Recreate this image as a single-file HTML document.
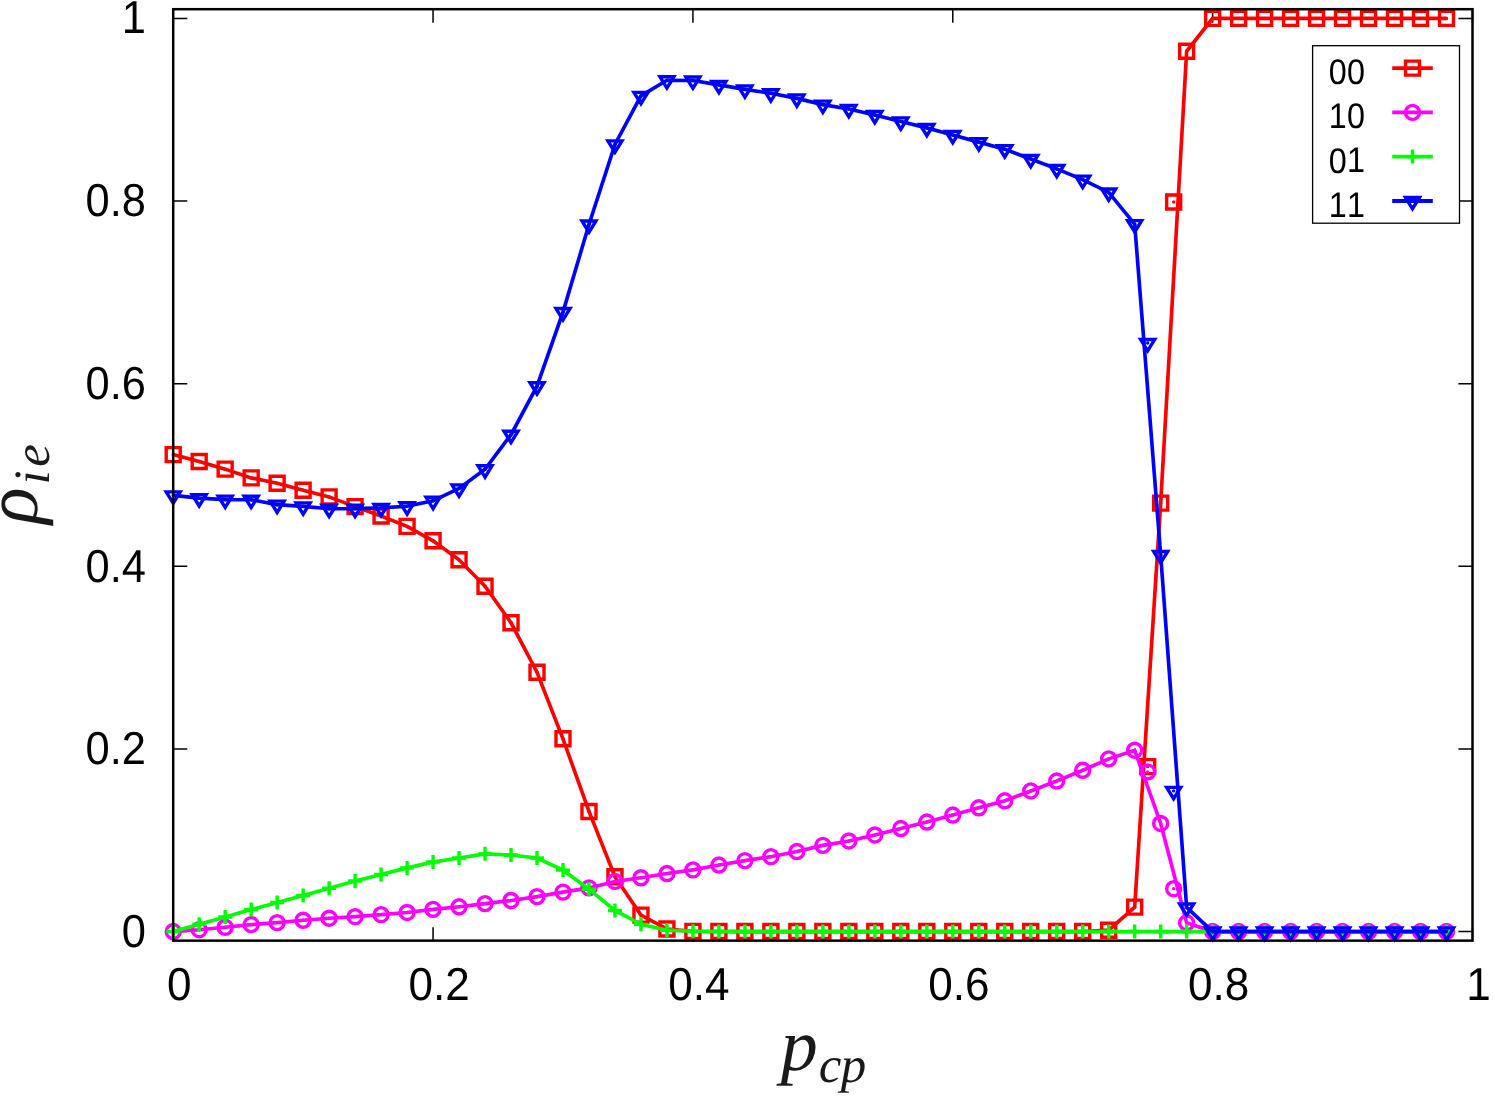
<!DOCTYPE html>
<html><head><meta charset="utf-8"><title>plot</title>
<style>
html,body{margin:0;padding:0;background:#fff;}
body{width:1495px;height:1096px;overflow:hidden;}
svg{display:block;will-change:transform;}
text{font-family:"Liberation Sans",sans-serif;fill:#000;text-rendering:geometricPrecision;}
</style></head><body>
<svg width="1495" height="1096" viewBox="0 0 1495 1096">
<rect width="1495" height="1096" fill="#fff"/>
<path d="M173.2 931.55h14.1M1472.5 931.55h-14.1M173.2 748.92h14.1M1472.5 748.92h-14.1M173.2 566.29h14.1M1472.5 566.29h-14.1M173.2 383.66h14.1M1472.5 383.66h-14.1M173.2 201.03h14.1M1472.5 201.03h-14.1M173.2 18.4h14.1M1472.5 18.4h-14.1M173.2 940.65v-13.5M173.2 9.2v13.5M433.06 940.65v-13.5M433.06 9.2v13.5M692.92 940.65v-13.5M692.92 9.2v13.5M952.78 940.65v-13.5M952.78 9.2v13.5M1212.64 940.65v-13.5M1212.64 9.2v13.5M1472.5 940.65v-13.5M1472.5 9.2v13.5" stroke="#000" stroke-width="1.5" fill="none"/>
<rect x="1312.6" y="45.7" width="146.9000000000001" height="177.5" fill="#fff" stroke="#000" stroke-width="1.3"/>
<polyline points="173.2,454.61 199.19,461.55 225.17,469.13 251.16,477.9 277.14,483.28 303.13,490.22 329.12,496.89 355.1,506.66 381.09,515.98 407.07,526.39 433.06,540.81 459.05,559.81 485.03,586.29 511.02,622.81 537,672.22 562.99,738.78 588.98,811.47 614.96,876.76 640.95,915.11 666.93,928.99 692.92,931.37 718.91,931.55 744.89,931.55 770.88,931.55 796.86,931.55 822.85,931.55 848.84,931.55 874.82,931.55 900.81,931.55 926.79,931.55 952.78,931.55 978.77,931.55 1004.75,931.55 1030.74,931.55 1056.72,931.55 1082.71,931.55 1108.7,930.18 1134.68,907.17 1160.67,503.1 1186.65,51.27 1212.64,18.4 1238.63,18.4 1264.61,18.4 1290.6,18.4 1316.58,18.4 1342.57,18.4 1368.56,18.4 1394.54,18.4 1420.53,18.4 1446.51,18.4" fill="none" stroke="#ff0000" stroke-width="3.65" stroke-linejoin="miter" stroke-miterlimit="10" stroke-linecap="butt"/>
<path d="M1392.2 68.1H1432.8" stroke="#ff0000" stroke-width="3.8" fill="none"/>
<path d="M166.2 447.61h14v14h-14zM192.19 454.55h14v14h-14zM218.17 462.13h14v14h-14zM244.16 470.9h14v14h-14zM270.14 476.28h14v14h-14zM296.13 483.22h14v14h-14zM322.12 489.89h14v14h-14zM348.1 499.66h14v14h-14zM374.09 508.98h14v14h-14zM400.07 519.39h14v14h-14zM426.06 533.81h14v14h-14zM452.05 552.81h14v14h-14zM478.03 579.29h14v14h-14zM504.02 615.81h14v14h-14zM530 665.22h14v14h-14zM555.99 731.78h14v14h-14zM581.98 804.47h14v14h-14zM607.96 869.76h14v14h-14zM633.95 908.11h14v14h-14zM659.93 921.99h14v14h-14zM685.92 924.37h14v14h-14zM711.91 924.55h14v14h-14zM737.89 924.55h14v14h-14zM763.88 924.55h14v14h-14zM789.86 924.55h14v14h-14zM815.85 924.55h14v14h-14zM841.84 924.55h14v14h-14zM867.82 924.55h14v14h-14zM893.81 924.55h14v14h-14zM919.79 924.55h14v14h-14zM945.78 924.55h14v14h-14zM971.77 924.55h14v14h-14zM997.75 924.55h14v14h-14zM1023.74 924.55h14v14h-14zM1049.72 924.55h14v14h-14zM1075.71 924.55h14v14h-14zM1101.7 923.18h14v14h-14zM1127.68 900.17h14v14h-14zM1140.67 759.64h14v14h-14zM1153.67 496.1h14v14h-14zM1166.66 194.94h14v14h-14zM1179.65 44.27h14v14h-14zM1205.64 11.4h14v14h-14zM1231.63 11.4h14v14h-14zM1257.61 11.4h14v14h-14zM1283.6 11.4h14v14h-14zM1309.58 11.4h14v14h-14zM1335.57 11.4h14v14h-14zM1361.56 11.4h14v14h-14zM1387.54 11.4h14v14h-14zM1413.53 11.4h14v14h-14zM1439.51 11.4h14v14h-14zM1405.5 61.1h14v14h-14z" fill="none" stroke="#ff0000" stroke-width="3.4" stroke-linejoin="miter" stroke-miterlimit="10"/><path d="M173.2 454.61h0.01M199.19 461.55h0.01M225.17 469.13h0.01M251.16 477.9h0.01M277.14 483.28h0.01M303.13 490.22h0.01M329.12 496.89h0.01M355.1 506.66h0.01M381.09 515.98h0.01M407.07 526.39h0.01M433.06 540.81h0.01M459.05 559.81h0.01M485.03 586.29h0.01M511.02 622.81h0.01M537 672.22h0.01M562.99 738.78h0.01M588.98 811.47h0.01M614.96 876.76h0.01M640.95 915.11h0.01M666.93 928.99h0.01M692.92 931.37h0.01M718.91 931.55h0.01M744.89 931.55h0.01M770.88 931.55h0.01M796.86 931.55h0.01M822.85 931.55h0.01M848.84 931.55h0.01M874.82 931.55h0.01M900.81 931.55h0.01M926.79 931.55h0.01M952.78 931.55h0.01M978.77 931.55h0.01M1004.75 931.55h0.01M1030.74 931.55h0.01M1056.72 931.55h0.01M1082.71 931.55h0.01M1108.7 930.18h0.01M1134.68 907.17h0.01M1147.67 766.64h0.01M1160.67 503.1h0.01M1173.66 201.94h0.01M1186.65 51.27h0.01M1212.64 18.4h0.01M1238.63 18.4h0.01M1264.61 18.4h0.01M1290.6 18.4h0.01M1316.58 18.4h0.01M1342.57 18.4h0.01M1368.56 18.4h0.01M1394.54 18.4h0.01M1420.53 18.4h0.01M1446.51 18.4h0.01M1412.5 68.1h0.01" fill="none" stroke="#ff0000" stroke-width="3.4" stroke-linecap="round"/>
<polyline points="173.2,931.55 199.19,929.72 225.17,927.26 251.16,924.61 277.14,922.6 303.13,920.23 329.12,918.22 355.1,916.67 381.09,914.66 407.07,912.47 433.06,909.36 459.05,906.8 485.03,903.61 511.02,900.5 537,896.58 562.99,892.1 588.98,887.9 614.96,881.42 640.95,877.77 666.93,873.56 692.92,869.91 718.91,865.07 744.89,860.6 770.88,856.67 796.86,851.56 822.85,845.35 848.84,840.97 874.82,834.94 900.81,828.55 926.79,822.06 952.78,815.03 978.77,807.82 1004.75,800.79 1030.74,790.92 1056.72,781.06 1082.71,770.29 1108.7,758.87 1134.68,750.2 1160.67,823.43 1186.65,922.78 1212.64,931.55 1238.63,931.55 1264.61,931.55 1290.6,931.55 1316.58,931.55 1342.57,931.55 1368.56,931.55 1394.54,931.55 1420.53,931.55 1446.51,931.55" fill="none" stroke="#ff00ff" stroke-width="3.65" stroke-linejoin="miter" stroke-miterlimit="10" stroke-linecap="butt"/>
<path d="M1392.2 112.4H1432.8" stroke="#ff00ff" stroke-width="3.8" fill="none"/>
<path d="M166.2 931.55a7 7 0 1 0 14 0a7 7 0 1 0 -14 0zM192.19 929.72a7 7 0 1 0 14 0a7 7 0 1 0 -14 0zM218.17 927.26a7 7 0 1 0 14 0a7 7 0 1 0 -14 0zM244.16 924.61a7 7 0 1 0 14 0a7 7 0 1 0 -14 0zM270.14 922.6a7 7 0 1 0 14 0a7 7 0 1 0 -14 0zM296.13 920.23a7 7 0 1 0 14 0a7 7 0 1 0 -14 0zM322.12 918.22a7 7 0 1 0 14 0a7 7 0 1 0 -14 0zM348.1 916.67a7 7 0 1 0 14 0a7 7 0 1 0 -14 0zM374.09 914.66a7 7 0 1 0 14 0a7 7 0 1 0 -14 0zM400.07 912.47a7 7 0 1 0 14 0a7 7 0 1 0 -14 0zM426.06 909.36a7 7 0 1 0 14 0a7 7 0 1 0 -14 0zM452.05 906.8a7 7 0 1 0 14 0a7 7 0 1 0 -14 0zM478.03 903.61a7 7 0 1 0 14 0a7 7 0 1 0 -14 0zM504.02 900.5a7 7 0 1 0 14 0a7 7 0 1 0 -14 0zM530 896.58a7 7 0 1 0 14 0a7 7 0 1 0 -14 0zM555.99 892.1a7 7 0 1 0 14 0a7 7 0 1 0 -14 0zM581.98 887.9a7 7 0 1 0 14 0a7 7 0 1 0 -14 0zM607.96 881.42a7 7 0 1 0 14 0a7 7 0 1 0 -14 0zM633.95 877.77a7 7 0 1 0 14 0a7 7 0 1 0 -14 0zM659.93 873.56a7 7 0 1 0 14 0a7 7 0 1 0 -14 0zM685.92 869.91a7 7 0 1 0 14 0a7 7 0 1 0 -14 0zM711.91 865.07a7 7 0 1 0 14 0a7 7 0 1 0 -14 0zM737.89 860.6a7 7 0 1 0 14 0a7 7 0 1 0 -14 0zM763.88 856.67a7 7 0 1 0 14 0a7 7 0 1 0 -14 0zM789.86 851.56a7 7 0 1 0 14 0a7 7 0 1 0 -14 0zM815.85 845.35a7 7 0 1 0 14 0a7 7 0 1 0 -14 0zM841.84 840.97a7 7 0 1 0 14 0a7 7 0 1 0 -14 0zM867.82 834.94a7 7 0 1 0 14 0a7 7 0 1 0 -14 0zM893.81 828.55a7 7 0 1 0 14 0a7 7 0 1 0 -14 0zM919.79 822.06a7 7 0 1 0 14 0a7 7 0 1 0 -14 0zM945.78 815.03a7 7 0 1 0 14 0a7 7 0 1 0 -14 0zM971.77 807.82a7 7 0 1 0 14 0a7 7 0 1 0 -14 0zM997.75 800.79a7 7 0 1 0 14 0a7 7 0 1 0 -14 0zM1023.74 790.92a7 7 0 1 0 14 0a7 7 0 1 0 -14 0zM1049.72 781.06a7 7 0 1 0 14 0a7 7 0 1 0 -14 0zM1075.71 770.29a7 7 0 1 0 14 0a7 7 0 1 0 -14 0zM1101.7 758.87a7 7 0 1 0 14 0a7 7 0 1 0 -14 0zM1127.68 750.2a7 7 0 1 0 14 0a7 7 0 1 0 -14 0zM1140.67 771.84a7 7 0 1 0 14 0a7 7 0 1 0 -14 0zM1153.67 823.43a7 7 0 1 0 14 0a7 7 0 1 0 -14 0zM1166.66 888.63a7 7 0 1 0 14 0a7 7 0 1 0 -14 0zM1179.65 922.78a7 7 0 1 0 14 0a7 7 0 1 0 -14 0zM1205.64 931.55a7 7 0 1 0 14 0a7 7 0 1 0 -14 0zM1231.63 931.55a7 7 0 1 0 14 0a7 7 0 1 0 -14 0zM1257.61 931.55a7 7 0 1 0 14 0a7 7 0 1 0 -14 0zM1283.6 931.55a7 7 0 1 0 14 0a7 7 0 1 0 -14 0zM1309.58 931.55a7 7 0 1 0 14 0a7 7 0 1 0 -14 0zM1335.57 931.55a7 7 0 1 0 14 0a7 7 0 1 0 -14 0zM1361.56 931.55a7 7 0 1 0 14 0a7 7 0 1 0 -14 0zM1387.54 931.55a7 7 0 1 0 14 0a7 7 0 1 0 -14 0zM1413.53 931.55a7 7 0 1 0 14 0a7 7 0 1 0 -14 0zM1439.51 931.55a7 7 0 1 0 14 0a7 7 0 1 0 -14 0zM1405.5 112.4a7 7 0 1 0 14 0a7 7 0 1 0 -14 0z" fill="none" stroke="#ff00ff" stroke-width="3.4" stroke-linejoin="miter" stroke-miterlimit="10"/><path d="M173.2 931.55h0.01M199.19 929.72h0.01M225.17 927.26h0.01M251.16 924.61h0.01M277.14 922.6h0.01M303.13 920.23h0.01M329.12 918.22h0.01M355.1 916.67h0.01M381.09 914.66h0.01M407.07 912.47h0.01M433.06 909.36h0.01M459.05 906.8h0.01M485.03 903.61h0.01M511.02 900.5h0.01M537 896.58h0.01M562.99 892.1h0.01M588.98 887.9h0.01M614.96 881.42h0.01M640.95 877.77h0.01M666.93 873.56h0.01M692.92 869.91h0.01M718.91 865.07h0.01M744.89 860.6h0.01M770.88 856.67h0.01M796.86 851.56h0.01M822.85 845.35h0.01M848.84 840.97h0.01M874.82 834.94h0.01M900.81 828.55h0.01M926.79 822.06h0.01M952.78 815.03h0.01M978.77 807.82h0.01M1004.75 800.79h0.01M1030.74 790.92h0.01M1056.72 781.06h0.01M1082.71 770.29h0.01M1108.7 758.87h0.01M1134.68 750.2h0.01M1147.67 771.84h0.01M1160.67 823.43h0.01M1173.66 888.63h0.01M1186.65 922.78h0.01M1212.64 931.55h0.01M1238.63 931.55h0.01M1264.61 931.55h0.01M1290.6 931.55h0.01M1316.58 931.55h0.01M1342.57 931.55h0.01M1368.56 931.55h0.01M1394.54 931.55h0.01M1420.53 931.55h0.01M1446.51 931.55h0.01M1412.5 112.4h0.01" fill="none" stroke="#ff00ff" stroke-width="3.4" stroke-linecap="round"/>
<polyline points="173.2,931.55 199.19,924.24 225.17,917.03 251.16,909.54 277.14,902.51 303.13,895.57 329.12,888.18 355.1,881.05 381.09,874.48 407.07,867.9 433.06,862.06 459.05,858.04 485.03,853.84 511.02,855.03 537,858.04 562.99,870.1 588.98,889.18 614.96,910.46 640.95,924.34 666.93,930.27 692.92,931.28 718.91,931.55 744.89,931.55 770.88,931.55 796.86,931.55 822.85,931.55 848.84,931.55 874.82,931.55 900.81,931.55 926.79,931.55 952.78,931.55 978.77,931.55 1004.75,931.55 1030.74,931.55 1056.72,931.55 1082.71,931.55 1108.7,931.55 1134.68,931.55 1160.67,931.55 1186.65,931.55 1212.64,931.55 1238.63,931.55 1264.61,931.55 1290.6,931.55 1316.58,931.55 1342.57,931.55 1368.56,931.55 1394.54,931.55 1420.53,931.55 1446.51,931.55" fill="none" stroke="#00ff00" stroke-width="3.65" stroke-linejoin="miter" stroke-miterlimit="10" stroke-linecap="butt"/>
<path d="M1392.2 156.6H1432.8" stroke="#00ff00" stroke-width="3.8" fill="none"/>
<path d="M166.2 931.55h14M173.2 924.55v14M192.19 924.24h14M199.19 917.24v14M218.17 917.03h14M225.17 910.03v14M244.16 909.54h14M251.16 902.54v14M270.14 902.51h14M277.14 895.51v14M296.13 895.57h14M303.13 888.57v14M322.12 888.18h14M329.12 881.18v14M348.1 881.05h14M355.1 874.05v14M374.09 874.48h14M381.09 867.48v14M400.07 867.9h14M407.07 860.9v14M426.06 862.06h14M433.06 855.06v14M452.05 858.04h14M459.05 851.04v14M478.03 853.84h14M485.03 846.84v14M504.02 855.03h14M511.02 848.03v14M530 858.04h14M537 851.04v14M555.99 870.1h14M562.99 863.1v14M581.98 889.18h14M588.98 882.18v14M607.96 910.46h14M614.96 903.46v14M633.95 924.34h14M640.95 917.34v14M659.93 930.27h14M666.93 923.27v14M685.92 931.28h14M692.92 924.28v14M711.91 931.55h14M718.91 924.55v14M737.89 931.55h14M744.89 924.55v14M763.88 931.55h14M770.88 924.55v14M789.86 931.55h14M796.86 924.55v14M815.85 931.55h14M822.85 924.55v14M841.84 931.55h14M848.84 924.55v14M867.82 931.55h14M874.82 924.55v14M893.81 931.55h14M900.81 924.55v14M919.79 931.55h14M926.79 924.55v14M945.78 931.55h14M952.78 924.55v14M971.77 931.55h14M978.77 924.55v14M997.75 931.55h14M1004.75 924.55v14M1023.74 931.55h14M1030.74 924.55v14M1049.72 931.55h14M1056.72 924.55v14M1075.71 931.55h14M1082.71 924.55v14M1101.7 931.55h14M1108.7 924.55v14M1127.68 931.55h14M1134.68 924.55v14M1153.67 931.55h14M1160.67 924.55v14M1179.65 931.55h14M1186.65 924.55v14M1205.64 931.55h14M1212.64 924.55v14M1231.63 931.55h14M1238.63 924.55v14M1257.61 931.55h14M1264.61 924.55v14M1283.6 931.55h14M1290.6 924.55v14M1309.58 931.55h14M1316.58 924.55v14M1335.57 931.55h14M1342.57 924.55v14M1361.56 931.55h14M1368.56 924.55v14M1387.54 931.55h14M1394.54 924.55v14M1413.53 931.55h14M1420.53 924.55v14M1439.51 931.55h14M1446.51 924.55v14M1405.5 156.6h14M1412.5 149.6v14" fill="none" stroke="#00ff00" stroke-width="3.4" stroke-linejoin="miter" stroke-miterlimit="10"/>
<polyline points="173.2,495.34 199.19,498.17 225.17,499.63 251.16,499.72 277.14,504.65 303.13,506.39 329.12,508.76 355.1,508.67 381.09,507.94 407.07,506.3 433.06,500.82 459.05,488.4 485.03,469.31 511.02,434.71 537,386.22 562.99,312.07 588.98,224.5 614.96,144.41 640.95,95.84 666.93,80.22 692.92,80.49 718.91,84.88 744.89,89.35 770.88,93.28 796.86,98.39 822.85,104.6 848.84,108.98 874.82,115.01 900.81,121.4 926.79,127.89 952.78,134.92 978.77,142.13 1004.75,149.16 1030.74,159.03 1056.72,168.89 1082.71,179.66 1108.7,192.45 1134.68,224.13 1160.67,554.97 1186.65,907.44 1212.64,931.55 1238.63,931.55 1264.61,931.55 1290.6,931.55 1316.58,931.55 1342.57,931.55 1368.56,931.55 1394.54,931.55 1420.53,931.55 1446.51,931.55" fill="none" stroke="#0000ff" stroke-width="3.65" stroke-linejoin="miter" stroke-miterlimit="10" stroke-linecap="butt"/>
<path d="M1392.2 201.0H1432.8" stroke="#0000ff" stroke-width="3.8" fill="none"/>
<path d="M173.2 503.18L166.2 491.84L180.2 491.84zM199.19 506.01L192.19 494.67L206.19 494.67zM225.17 507.47L218.17 496.13L232.17 496.13zM251.16 507.56L244.16 496.22L258.16 496.22zM277.14 512.49L270.14 501.15L284.14 501.15zM303.13 514.23L296.13 502.89L310.13 502.89zM329.12 516.6L322.12 505.26L336.12 505.26zM355.1 516.51L348.1 505.17L362.1 505.17zM381.09 515.78L374.09 504.44L388.09 504.44zM407.07 514.14L400.07 502.8L414.07 502.8zM433.06 508.66L426.06 497.32L440.06 497.32zM459.05 496.24L452.05 484.9L466.05 484.9zM485.03 477.15L478.03 465.81L492.03 465.81zM511.02 442.55L504.02 431.21L518.02 431.21zM537 394.06L530 382.72L544 382.72zM562.99 319.91L555.99 308.57L569.99 308.57zM588.98 232.34L581.98 221L595.98 221zM614.96 152.25L607.96 140.91L621.96 140.91zM640.95 103.68L633.95 92.34L647.95 92.34zM666.93 88.06L659.93 76.72L673.93 76.72zM692.92 88.33L685.92 76.99L699.92 76.99zM718.91 92.72L711.91 81.38L725.91 81.38zM744.89 97.19L737.89 85.85L751.89 85.85zM770.88 101.12L763.88 89.78L777.88 89.78zM796.86 106.23L789.86 94.89L803.86 94.89zM822.85 112.44L815.85 101.1L829.85 101.1zM848.84 116.82L841.84 105.48L855.84 105.48zM874.82 122.85L867.82 111.51L881.82 111.51zM900.81 129.24L893.81 117.9L907.81 117.9zM926.79 135.73L919.79 124.39L933.79 124.39zM952.78 142.76L945.78 131.42L959.78 131.42zM978.77 149.97L971.77 138.63L985.77 138.63zM1004.75 157L997.75 145.66L1011.75 145.66zM1030.74 166.87L1023.74 155.53L1037.74 155.53zM1056.72 176.73L1049.72 165.39L1063.72 165.39zM1082.71 187.5L1075.71 176.16L1089.71 176.16zM1108.7 200.29L1101.7 188.95L1115.7 188.95zM1134.68 231.97L1127.68 220.63L1141.68 220.63zM1147.67 350.86L1140.67 339.52L1154.67 339.52zM1160.67 562.81L1153.67 551.47L1167.67 551.47zM1173.66 798.76L1166.66 787.42L1180.66 787.42zM1186.65 915.28L1179.65 903.94L1193.65 903.94zM1212.64 939.39L1205.64 928.05L1219.64 928.05zM1238.63 939.39L1231.63 928.05L1245.63 928.05zM1264.61 939.39L1257.61 928.05L1271.61 928.05zM1290.6 939.39L1283.6 928.05L1297.6 928.05zM1316.58 939.39L1309.58 928.05L1323.58 928.05zM1342.57 939.39L1335.57 928.05L1349.57 928.05zM1368.56 939.39L1361.56 928.05L1375.56 928.05zM1394.54 939.39L1387.54 928.05L1401.54 928.05zM1420.53 939.39L1413.53 928.05L1427.53 928.05zM1446.51 939.39L1439.51 928.05L1453.51 928.05zM1412.5 208.84L1405.5 197.5L1419.5 197.5z" fill="none" stroke="#0000ff" stroke-width="3.4" stroke-linejoin="miter" stroke-miterlimit="10"/><path d="M173.2 495.34h0.01M199.19 498.17h0.01M225.17 499.63h0.01M251.16 499.72h0.01M277.14 504.65h0.01M303.13 506.39h0.01M329.12 508.76h0.01M355.1 508.67h0.01M381.09 507.94h0.01M407.07 506.3h0.01M433.06 500.82h0.01M459.05 488.4h0.01M485.03 469.31h0.01M511.02 434.71h0.01M537 386.22h0.01M562.99 312.07h0.01M588.98 224.5h0.01M614.96 144.41h0.01M640.95 95.84h0.01M666.93 80.22h0.01M692.92 80.49h0.01M718.91 84.88h0.01M744.89 89.35h0.01M770.88 93.28h0.01M796.86 98.39h0.01M822.85 104.6h0.01M848.84 108.98h0.01M874.82 115.01h0.01M900.81 121.4h0.01M926.79 127.89h0.01M952.78 134.92h0.01M978.77 142.13h0.01M1004.75 149.16h0.01M1030.74 159.03h0.01M1056.72 168.89h0.01M1082.71 179.66h0.01M1108.7 192.45h0.01M1134.68 224.13h0.01M1147.67 343.02h0.01M1160.67 554.97h0.01M1173.66 790.92h0.01M1186.65 907.44h0.01M1212.64 931.55h0.01M1238.63 931.55h0.01M1264.61 931.55h0.01M1290.6 931.55h0.01M1316.58 931.55h0.01M1342.57 931.55h0.01M1368.56 931.55h0.01M1394.54 931.55h0.01M1420.53 931.55h0.01M1446.51 931.55h0.01M1412.5 201h0.01" fill="none" stroke="#0000ff" stroke-width="3.4" stroke-linecap="round"/>
<rect x="173.2" y="9.2" width="1299.3" height="931.4499999999999" fill="none" stroke="#000" stroke-width="2.5"/>
<text transform="translate(145.9 946.9) scale(0.938 1)" font-size="46.3" text-anchor="end">0</text>
<text transform="translate(145.9 764.27) scale(0.938 1)" font-size="46.3" text-anchor="end">0.2</text>
<text transform="translate(145.9 581.64) scale(0.938 1)" font-size="46.3" text-anchor="end">0.4</text>
<text transform="translate(145.9 399.01) scale(0.938 1)" font-size="46.3" text-anchor="end">0.6</text>
<text transform="translate(145.9 216.38) scale(0.938 1)" font-size="46.3" text-anchor="end">0.8</text>
<text transform="translate(179.2 1000) scale(0.952 1)" font-size="46.3" text-anchor="middle">0</text>
<text transform="translate(439.06 1000) scale(0.952 1)" font-size="46.3" text-anchor="middle">0.2</text>
<text transform="translate(698.92 1000) scale(0.952 1)" font-size="46.3" text-anchor="middle">0.4</text>
<text transform="translate(958.78 1000) scale(0.952 1)" font-size="46.3" text-anchor="middle">0.6</text>
<text transform="translate(1218.64 1000) scale(0.952 1)" font-size="46.3" text-anchor="middle">0.8</text>
<g fill="#000"><text transform="translate(145.9 32.7) scale(0.938 1)" font-size="46.3" text-anchor="end">1</text><text transform="translate(1478.5 1000) scale(0.952 1)" font-size="46.3" text-anchor="middle">1</text><text transform="translate(1328.65 84.05) scale(0.907 1)" font-size="35.6" text-anchor="start">0</text><text transform="translate(1347.05 84.05) scale(0.907 1)" font-size="35.6" text-anchor="start">0</text><text transform="translate(1328.65 128.05) scale(0.907 1)" font-size="35.6" text-anchor="start">1</text><text transform="translate(1347.05 128.35) scale(0.907 1)" font-size="35.6" text-anchor="start">0</text><text transform="translate(1328.65 172.55) scale(0.907 1)" font-size="35.6" text-anchor="start">0</text><text transform="translate(1347.05 172.25) scale(0.907 1)" font-size="35.6" text-anchor="start">1</text><text transform="translate(1328.65 216.65) scale(0.907 1)" font-size="35.6" text-anchor="start">1</text><text transform="translate(1347.05 216.65) scale(0.907 1)" font-size="35.6" text-anchor="start">1</text></g>
<g style="fill:#1a1a1a;font-family:'Liberation Serif',serif;font-style:italic"><text x="780.8" y="1070.2" font-size="74" style="fill:#1a1a1a;font-family:'Liberation Serif',serif;font-style:italic">p</text><text x="818.84" y="1081.6" font-size="51" style="fill:#1a1a1a;font-family:'Liberation Serif',serif;font-style:italic">c</text><text x="840.85" y="1081.6" font-size="51" style="fill:#1a1a1a;font-family:'Liberation Serif',serif;font-style:italic">p</text></g>
<g transform="translate(37 524) rotate(-90)"><text x="0" y="0" font-size="76" style="fill:#1a1a1a;font-family:'Liberation Serif',serif;font-style:italic">ρ</text><text x="39.55" y="12.3" font-size="51" style="fill:#1a1a1a;font-family:'Liberation Serif',serif;font-style:italic">i</text><text x="57.24" y="12.3" font-size="51" style="fill:#1a1a1a;font-family:'Liberation Serif',serif;font-style:italic">e</text></g>
</svg>
</body></html>
